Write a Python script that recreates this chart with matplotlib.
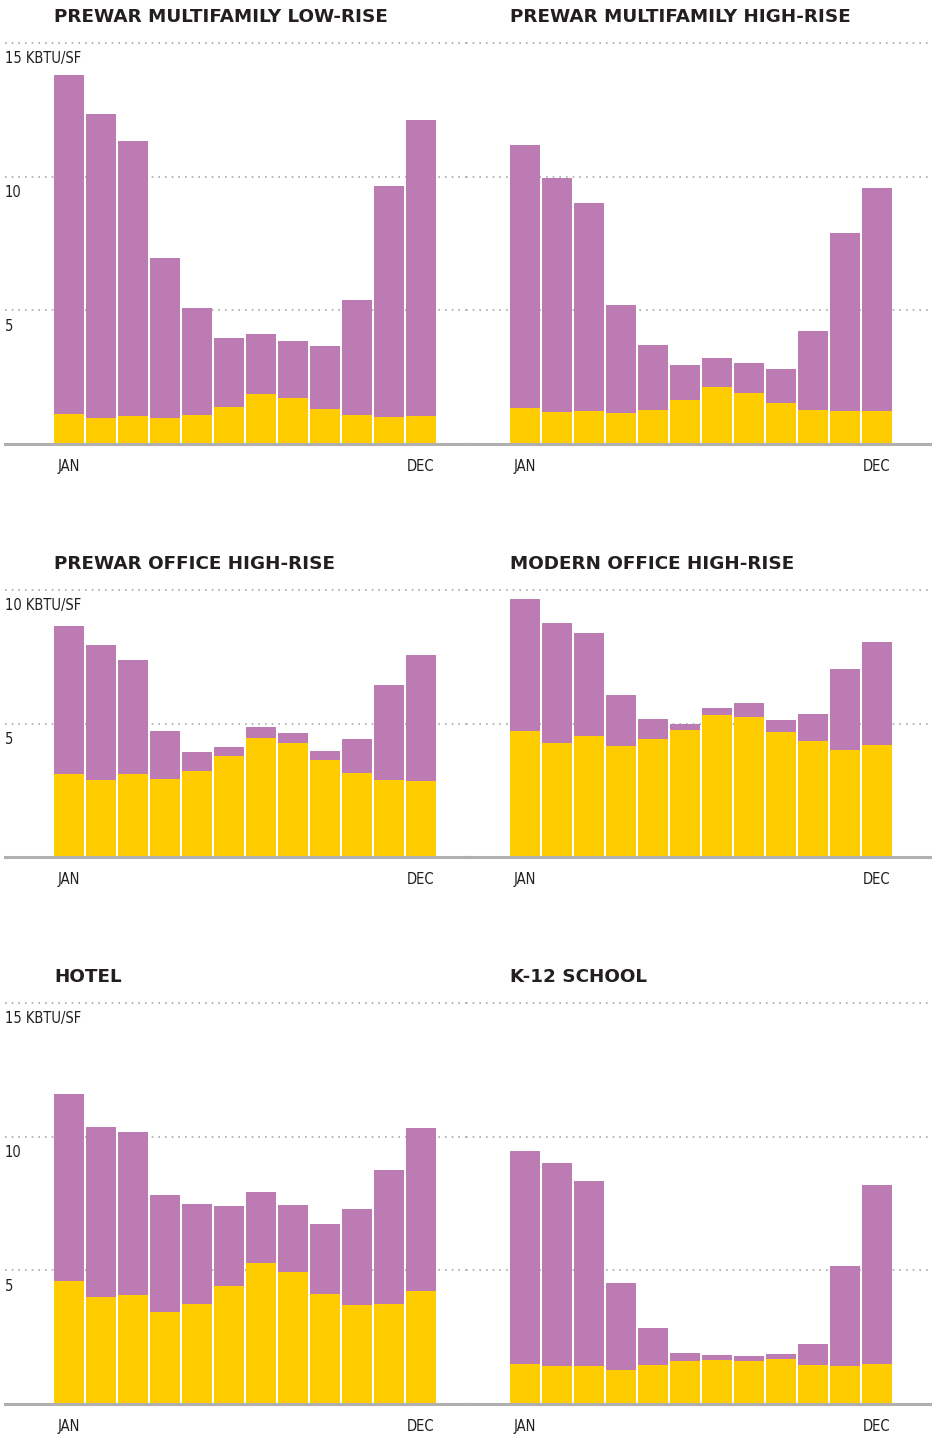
import numpy as np
import matplotlib
matplotlib.use("Agg")
import matplotlib.pyplot as plt

# monthly energy use intensity, kBtu/sf (yellow = base load, purple = total)
months = ["JAN", "FEB", "MAR", "APR", "MAY", "JUN", "JUL", "AUG", "SEP", "OCT", "NOV", "DEC"]

titles = ["PREWAR MULTIFAMILY LOW-RISE", "PREWAR MULTIFAMILY HIGH-RISE",
          "PREWAR OFFICE HIGH-RISE", "MODERN OFFICE HIGH-RISE",
          "HOTEL", "K-12 SCHOOL"]

lowrise_base = [1.12, 0.97, 1.05, 0.97, 1.09, 1.39, 1.87, 1.72, 1.31, 1.09, 1.01, 1.05]
lowrise_total = [13.82, 12.36, 11.35, 6.97, 5.09, 3.97, 4.12, 3.86, 3.67, 5.39, 9.66, 12.13]

highrise_base = [1.35, 1.20, 1.24, 1.16, 1.27, 1.65, 2.13, 1.91, 1.54, 1.27, 1.24, 1.24]
highrise_total = [11.20, 9.96, 9.03, 5.21, 3.71, 2.96, 3.22, 3.03, 2.81, 4.23, 7.90, 9.59]

pw_office_base = [3.11, 2.88, 3.11, 2.92, 3.22, 3.78, 4.46, 4.27, 3.63, 3.15, 2.88, 2.85]
pw_office_total = [8.65, 7.94, 7.38, 4.72, 3.93, 4.12, 4.87, 4.64, 3.97, 4.42, 6.44, 7.57]

mod_office_base = [4.72, 4.27, 4.53, 4.16, 4.42, 4.76, 5.32, 5.24, 4.68, 4.34, 4.01, 4.19]
mod_office_total = [9.66, 8.76, 8.39, 6.07, 5.17, 4.98, 5.58, 5.77, 5.13, 5.36, 7.04, 8.05]

hotel_base = [4.61, 4.01, 4.08, 3.45, 3.75, 4.42, 5.28, 4.94, 4.12, 3.71, 3.75, 4.23]
hotel_total = [11.61, 10.37, 10.19, 7.83, 7.49, 7.42, 7.94, 7.45, 6.74, 7.30, 8.76, 10.34]

school_base = [1.50, 1.42, 1.42, 1.27, 1.46, 1.61, 1.65, 1.61, 1.69, 1.46, 1.42, 1.50]
school_total = [9.48, 9.03, 8.35, 4.53, 2.85, 1.91, 1.84, 1.80, 1.87, 2.25, 5.17, 8.20]

bases = [lowrise_base, highrise_base, pw_office_base, mod_office_base, hotel_base, school_base]
totals = [lowrise_total, highrise_total, pw_office_total, mod_office_total, hotel_total, school_total]

row_ymax = [15, 10, 15]
unit = "KBTU/SF"

YELLOW = "#ffcc00"
PURPLE = "#bd7bb4"
GRID = "#a8a8a8"
DARK = "#231f20"

W, H = 932, 1437
fig = plt.figure(figsize=(W / 100, H / 100), dpi=100)
fig.patch.set_facecolor("white")

small = dict(family="DejaVu Sans", fontstretch="condensed", fontweight="medium",
             fontsize=10.5, color=DARK)

# pixel layout of each row: (top gridline y, baseline y)
rows_px = [(43, 444), (590, 857), (1003, 1404)]
cols_px = [(5, 466, -2.0, 12.41), (466, 932, -1.84, 12.72)]

for k in range(6):
    r, c = divmod(k, 2)
    top, base = rows_px[r]
    x0, x1, xlo, xhi = cols_px[c]
    ax = fig.add_axes([x0 / W, 1 - base / H, (x1 - x0) / W, (base - top) / H])
    ax.set_xlim(xlo, xhi)
    ymax = row_ymax[r]
    ax.set_ylim(0, ymax)
    ax.axis("off")

    x = np.arange(12)
    b = np.array(bases[k])
    t = np.array(totals[k])
    ax.bar(x, b, width=0.94, color=YELLOW, zorder=2)
    ax.bar(x, t - b, bottom=b, width=0.94, color=PURPLE, zorder=2)

    for v in range(5, ymax + 1, 5):
        ax.axhline(v, color=GRID, lw=1.2, ls=(0, (1, 3)), zorder=1, clip_on=False)
        if c == 0:
            lab = f"{v} {unit}" if v == ymax else str(v)
            ax.annotate(lab, xy=(0, v), xycoords=("axes fraction", "data"),
                        xytext=(0, -11.5), textcoords="offset points",
                        ha="left", va="center", **small)
    ax.axhline(0, color="#b0b0b0", lw=2.2, zorder=3, clip_on=False)

    for i in (0, 11):
        ax.annotate(months[i], xy=(i, 0), xytext=(0, -16), textcoords="offset points",
                    ha="center", va="center", **small)

    ax.annotate(titles[k], xy=(-0.47, ymax), xytext=(0, 19), textcoords="offset points",
                ha="left", va="center", fontsize=13.2, fontweight="bold", color=DARK,
                family="DejaVu Sans")

fig.savefig("out.png", dpi=100, facecolor="white")
